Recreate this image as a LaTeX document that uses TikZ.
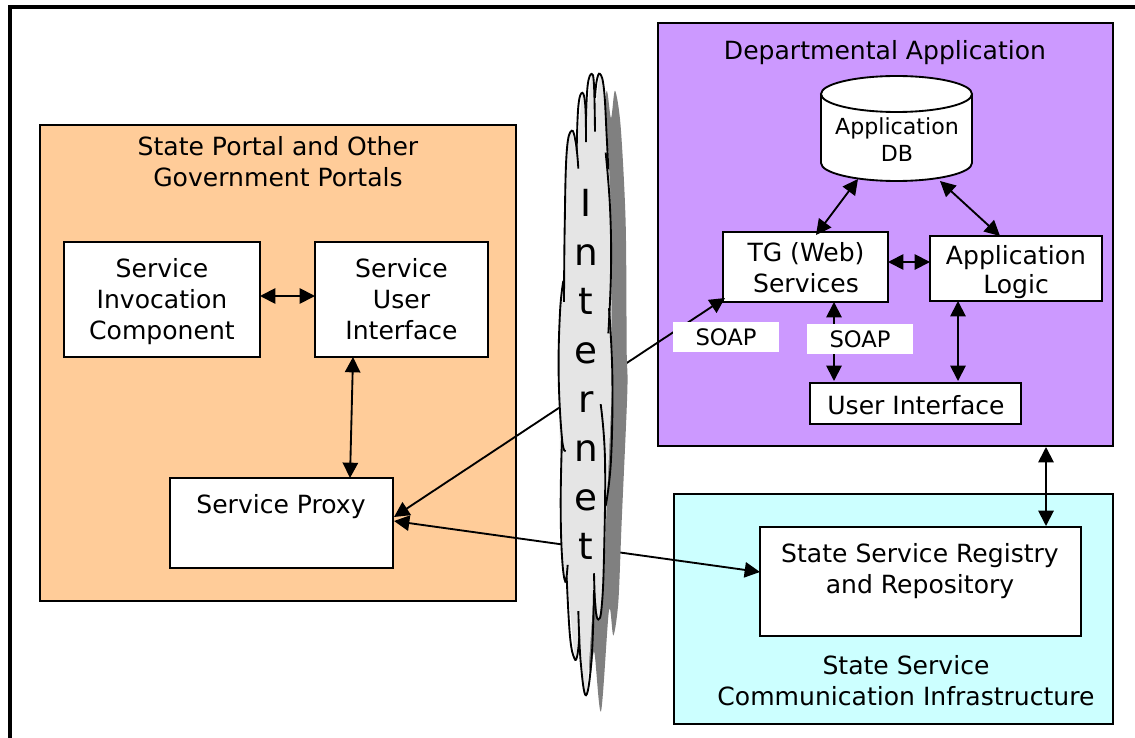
\documentclass[tikz,border=0pt]{standalone}
\usepackage{fontspec}
\setmainfont{DejaVu Sans}
\usetikzlibrary{arrows.meta,shapes.geometric}
\definecolor{portalorange}{HTML}{FFCC99}
\definecolor{deptpurple}{HTML}{CC99FF}
\definecolor{infracyan}{HTML}{CCFFFF}
\def\boxnode[#1](#2)(#3,#4,#5,#6)#7;{\node[#1,minimum width={(#5-#3)*0.75pt},minimum height={(#6-#4)*0.75pt}] (#2) at ({(#3+#5)/2},{(#4+#6)/2}) {#7};}
\tikzset{
	every node/.style={inner sep=0pt,outer sep=0pt,align=center,text=black},
	region/.style={draw=black,line width=1.4pt},
	whitebox/.style={draw=black,fill=white,line width=1.4pt,font=\fontsize{18.8}{23.25}\selectfont},
	soaplabel/.style={fill=white,font=\fontsize{17}{20}\selectfont},
	title/.style={font=\fontsize{18.8}{23.25}\selectfont},
	link/.style={line width=1.4pt,{Triangle[length=11.5pt,width=11.5pt]}-{Triangle[length=11.5pt,width=11.5pt]}},
	lobe/.style={line width=1.4pt,black,smooth,tension=0.7},
}
\begin{document}
\begin{tikzpicture}[x=0.75pt,y=-0.75pt]
		\useasboundingbox (0, 0) rectangle (1135, 738);
		
		%%%%% outer frame
		\coordinate (frameA) at (10, 745);
		\coordinate (frameB) at (10, 7);
		\coordinate (frameC) at (1145, 7);
		\draw[line width=3pt] (frameA) -- (frameB) -- (frameC);
		
		%%%%% regions
		\boxnode[region,fill=portalorange](portal)(40,125,516,601){};
		\boxnode[region,fill=deptpurple](dept)(658,23,1113,446){};
		\boxnode[region,fill=infracyan](infra)(674,494,1113,724){};
		
		\node[title] (portaltitle) at (278, 162) {State Portal and Other\\Government Portals};
		\node[title] (depttitle) at (885, 53) {Departmental Application};
		\node[title] (infratitle) at (906, 681) {State Service\\Communication Infrastructure};
		
		%%%%% boxes
		\boxnode[whitebox](invoke)(64,242,260,357){};
		\node[title] (invoketext) at (162, 302) {Service\\Invocation\\Component};
		\boxnode[whitebox](portalui)(315,242,488,357){Service\\User\\Interface};
		\boxnode[whitebox](proxy)(170,478,393,568){};
		\node[title] (proxytext) at (281, 507) {Service Proxy};
		\boxnode[whitebox](tg)(723,232,888,302){};
		\node[title] (tgtext) at (806, 268) {TG (Web)\\Services};
		\boxnode[whitebox](logic)(930,236,1102,301){};
		\node[title,font=\fontsize{18.8}{21.75}\selectfont] (logictext) at (1016, 272) {Application\\Logic};
		\boxnode[whitebox](deptui)(810,383,1021,424){};
		\node[title] (deptuitext) at (916, 405) {User Interface};
		\boxnode[whitebox](registry)(760,527,1081,636){};
		\node[title] (registrytext) at (920, 571) {State Service Registry\\and Repository};
		
		%%%%% database
		\draw[line width=1.4pt,fill=white] (821, 94) -- (821, 163) arc (180:0:75.5 and 18) -- (972, 94);
		\draw[line width=1.4pt,fill=white] (896.5, 94) ellipse (75.5 and 18);
		\node[font=\fontsize{16.6}{20.25}\selectfont] (appdb) at (897, 140) {Application\\DB};
		\coordinate (dbA) at (858, 179);
		\coordinate (dbB) at (940, 181);
		
		%%%%% connectors
		\coordinate (invokeR) at (260, 296);
		\coordinate (portaluiL) at (315, 296);
		\draw[link] (invokeR) -- (portaluiL);
		\coordinate (portaluiB) at (353, 357);
		\coordinate (proxyT) at (350, 478);
		\draw[link] (portaluiB) -- (proxyT);
		\coordinate (proxyA) at (394, 517);
		\coordinate (proxyB) at (394, 521);
		\coordinate (tgL) at (725, 298);
		\coordinate (registryL) at (760, 572);
		\draw[link] (proxyA) -- (tgL);
		\draw[link] (proxyB) -- (registryL);
		\coordinate (tgT) at (816, 235);
		\coordinate (logicT) at (1000, 236);
		\draw[link] (dbA) -- (tgT);
		\draw[link] (dbB) -- (logicT);
		\coordinate (tgR) at (888, 262);
		\coordinate (logicL) at (930, 262);
		\draw[link] (tgR) -- (logicL);
		\coordinate (tgB) at (834, 302);
		\coordinate (deptuiA) at (834, 381);
		\draw[link] (tgB) -- (deptuiA);
		\coordinate (logicB) at (958, 301);
		\coordinate (deptuiB) at (958, 381);
		\draw[link] (logicB) -- (deptuiB);
		\coordinate (deptB) at (1046, 447);
		\coordinate (registryT) at (1046, 526);
		\draw[link] (deptB) -- (registryT);
		
		%%%%% labels on the connectors
		\boxnode[soaplabel](soapA)(673,322,779,352){SOAP};
		\boxnode[soaplabel](soapB)(807,324,913,354){SOAP};
		
		%%%%% cloud, read off in crop units
		\begin{scope}[shift={(540,60)},xscale=0.3333,yscale=0.4207]
			\def\cloudoutline{(155,35) (168,100) (180,35) (197,120) (212,350) (215,650) (217,750) (200,1060) (190,1250) (175,1330) (162,1270) (138,1510) (118,1370) (105,1420) (82,1240) (75,1240) (62,1100) (60,930) (55,750) (60,600) (72,525) (75,400) (80,200) (95,170) (110,215) (127,78) (140,130)}
			\fill[black!50,shift={(45,38)}] plot[smooth cycle,tension=0.5] coordinates {\cloudoutline};
			\fill[black!10] plot[smooth cycle,tension=0.5] coordinates {\cloudoutline};
			\draw[lobe] plot coordinates {(72,575) (74,400) (80,220) (95,168) (108,200) (115,258)};
			\draw[lobe] plot coordinates {(110,215) (115,110) (127,78) (136,110) (138,195)};
			\draw[lobe] plot coordinates {(138,140) (143,60) (155,33) (162,60) (165,170)};
			\draw[lobe] plot coordinates {(165,90) (170,50) (180,33) (192,70) (200,180) (205,260)};
			\draw[lobe] plot coordinates {(197,220) (210,350) (213,500) (205,650)};
			\draw[lobe] plot coordinates {(207,590) (217,750) (213,950) (197,1060)};
			\draw[lobe] plot coordinates {(182,818) (195,950) (192,1180) (185,1300) (175,1330) (166,1300) (162,1220)};
			\draw[lobe] plot coordinates {(162,1260) (155,1420) (138,1510) (122,1430) (115,1310)};
			\draw[lobe] plot coordinates {(118,1370) (112,1415) (103,1422) (90,1370) (80,1230)};
			\draw[lobe] plot coordinates {(83,1200) (76,1240) (66,1180) (62,1050) (66,900)};
			\draw[lobe] plot coordinates {(77,930) (66,900) (56,750) (60,600) (70,525)};
		\end{scope}
		\node[font=\fontsize{28}{36.75}\selectfont] (internet) at (586, 374) {I\\n\\t\\e\\r\\n\\e\\t};
		
\end{tikzpicture}
\end{document}
